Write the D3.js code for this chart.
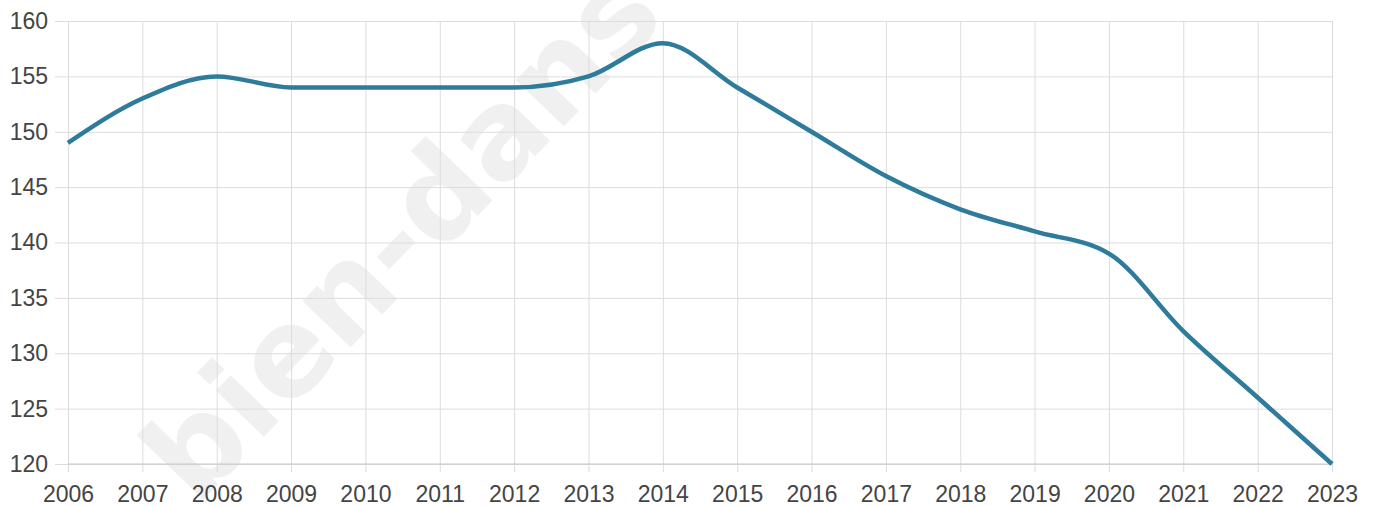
<!DOCTYPE html>
<html><head><meta charset="utf-8">
<script src="https://cdn.jsdelivr.net/npm/d3@7"></script>
<style>body{margin:0;background:#fff;} svg{display:block;}</style>
</head><body><svg id="c" width="1376" height="506"></svg>
<script>
const years = [2006,2007,2008,2009,2010,2011,2012,2013,2014,2015,2016,2017,2018,2019,2020,2021,2022,2023];
const values = [149,153,155,154,154,154,154,155,158,154,150,146,143,141,139,132,126,120];
const yTicks = [120,125,130,135,140,145,150,155,160];

const svg = d3.select('#c');
const m = {l:68, r:44, t:21, b:42};
const W = 1376, H = 506;
const x = d3.scaleLinear().domain([2006,2023]).range([m.l, W - m.r]);
const y = d3.scaleLinear().domain([120,160]).range([H - m.b, m.t]);

// watermark
svg.append('text').text('bien-dans')
  .attr('transform', 'translate(408,240) rotate(-46)')
  .attr('text-anchor','middle').attr('dominant-baseline','middle')
  .attr('font-family','DejaVu Sans').attr('font-weight','bold')
  .attr('font-size',122).attr('fill','#f0f0f0');

const font = 'Liberation Sans, Arial, sans-serif';
const gx = svg.append('g').attr('transform', `translate(0,${H - m.b})`)
  .call(d3.axisBottom(x).tickValues(years).tickFormat(d3.format('d')).tickSize(-(H - m.b - m.t)).tickSizeOuter(0).tickPadding(22));
gx.select('.domain').remove();
gx.selectAll('.tick line').attr('stroke','#dcdcdc').attr('y2', 8).attr('y1', -(H - m.b - m.t));
gx.selectAll('.tick text').attr('font-family',font).attr('font-size',23).attr('fill','#444');

const gy = svg.append('g').attr('transform', `translate(${m.l},0)`)
  .call(d3.axisLeft(y).tickValues(yTicks).tickSize(-(W - m.l - m.r)).tickSizeOuter(0).tickPadding(20));
gy.select('.domain').remove();
gy.selectAll('.tick line').attr('stroke','#dcdcdc').attr('x1', -13);
gy.selectAll('.tick text').attr('font-family',font).attr('font-size',23).attr('fill','#444');

svg.append('line').attr('x1', m.l).attr('x2', W - m.r).attr('y1', y(120)).attr('y2', y(120)).attr('stroke','#c8c8c8');

const line = d3.line().x((d,i)=>x(years[i])).y(d=>y(d)).curve(d3.curveMonotoneX);
svg.append('path').datum(values).attr('d', line).attr('fill','none')
  .attr('stroke','#2e7b9b').attr('stroke-width',4.5).attr('stroke-linejoin','round');
</script></body></html>
